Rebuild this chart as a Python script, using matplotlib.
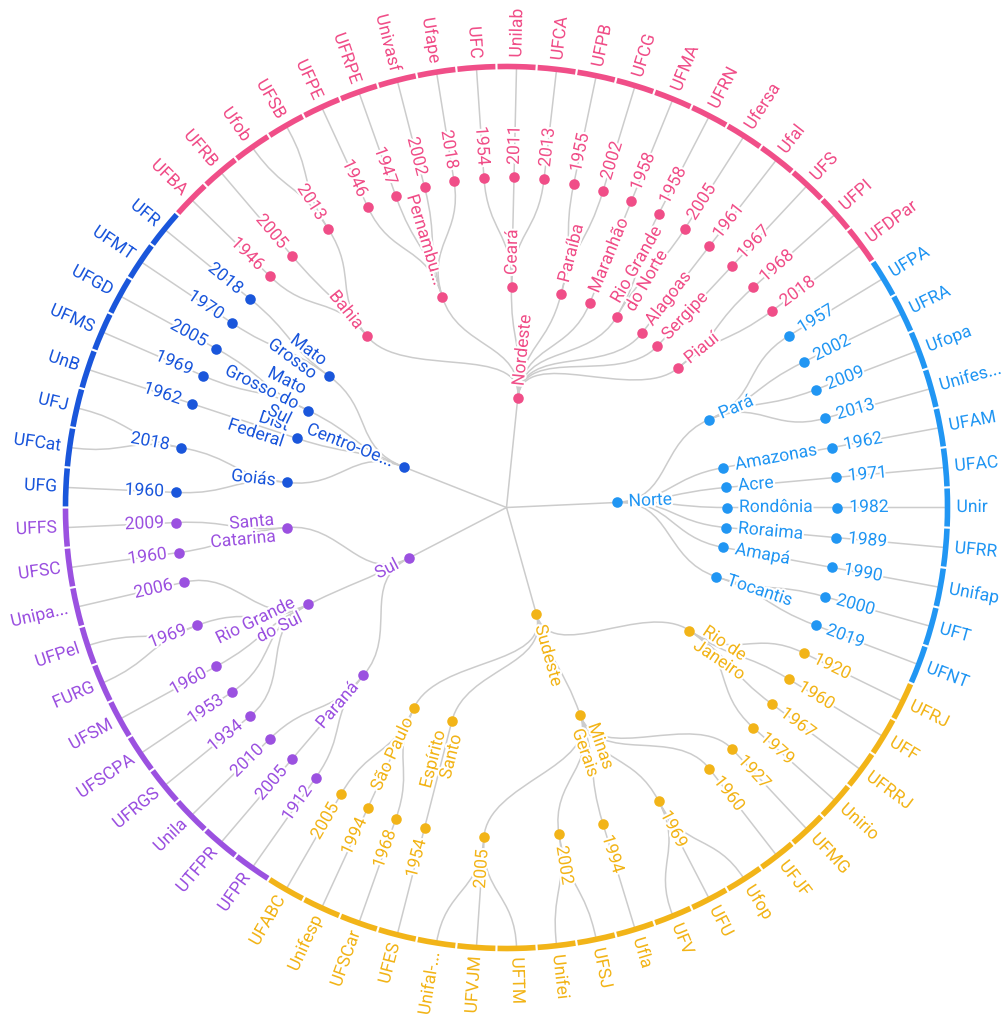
import numpy as np
import matplotlib.pyplot as plt
import matplotlib.patheffects as pe
from matplotlib.path import Path
from matplotlib.patches import PathPatch, Wedge

plt.rcParams['font.family'] = ['Roboto', 'DejaVu Sans']

# regions (clockwise from the right)
regions = ['Norte', 'Sudeste', 'Sul', 'Centro-Oeste', 'Nordeste']
region_labels = ['Norte', 'Sudeste', 'Sul', 'Centro-Oe...', 'Nordeste']
region_colors = ['#2196F3', '#F2B418', '#9B51E0', '#1A56DB', '#F04E88']

states = ['Pará', 'Amazonas', 'Acre', 'Rondônia', 'Roraima', 'Amapá', 'Tocantis',
          'Rio de Janeiro', 'Minas Gerais', 'Espírito Santo', 'São Paulo',
          'Paraná', 'Rio Grande do Sul', 'Santa Catarina',
          'Goiás', 'Distrito Federal', 'Mato Grosso do Sul', 'Mato Grosso',
          'Bahia', 'Pernambuco', 'Ceará', 'Paraíba', 'Maranhão',
          'Rio Grande do Norte', 'Alagoas', 'Sergipe', 'Piauí']
state_labels = ['Pará', 'Amazonas', 'Acre', 'Rondônia', 'Roraima', 'Amapá', 'Tocantis',
                'Rio de\nJaneiro', 'Minas\nGerais', 'Espírito\nSanto', 'São Paulo',
                'Paraná', 'Rio Grande\ndo Sul', 'Santa\nCatarina',
                'Goiás', 'Dist\nFederal', 'Mato\nGrosso do\nSul', 'Mato\nGrosso',
                'Bahia', 'Pernambu...', 'Ceará', 'Paraíba', 'Maranhão',
                'Rio Grande\ndo Norte', 'Alagoas', 'Sergipe', 'Piauí']
state_region = [0, 0, 0, 0, 0, 0, 0,
                1, 1, 1, 1,
                2, 2, 2,
                3, 3, 3, 3,
                4, 4, 4, 4, 4, 4, 4, 4, 4]

universities = ['UFPA', 'UFRA', 'Ufopa', 'Unifes...', 'UFAM', 'UFAC', 'Unir', 'UFRR', 'Unifap', 'UFT', 'UFNT',
                'UFRJ', 'UFF', 'UFRRJ', 'Unirio', 'UFMG', 'UFJF', 'Ufop', 'UFU', 'UFV', 'Ufla', 'UFSJ',
                'Unifei', 'UFTM', 'UFVJM', 'Unifal-...', 'UFES', 'UFSCar', 'Unifesp', 'UFABC',
                'UFPR', 'UTFPR', 'Unila', 'UFRGS', 'UFSCPA', 'UFSM', 'FURG', 'UFPel', 'Unipa...', 'UFSC', 'UFFS',
                'UFG', 'UFCat', 'UFJ', 'UnB', 'UFMS', 'UFGD', 'UFMT', 'UFR',
                'UFBA', 'UFRB', 'Ufob', 'UFSB', 'UFPE', 'UFRPE', 'Univasf', 'Ufape', 'UFC', 'Unilab', 'UFCA',
                'UFPB', 'UFCG', 'UFMA', 'UFRN', 'Ufersa', 'Ufal', 'UFS', 'UFPI', 'UFDPar']
founded = [1957, 2002, 2009, 2013, 1962, 1971, 1982, 1989, 1990, 2000, 2019,
           1920, 1960, 1967, 1979, 1927, 1960, 1969, 1969, 1969, 1994, 2002,
           2002, 2005, 2005, 2005, 1954, 1968, 1994, 2005,
           1912, 2005, 2010, 1934, 1953, 1960, 1969, 1969, 2006, 1960, 2009,
           1960, 2018, 2018, 1962, 1969, 2005, 1970, 2018,
           1946, 2005, 2013, 2013, 1946, 1947, 2002, 2018, 1954, 2011, 2013,
           1955, 2002, 1958, 1958, 2005, 1961, 1967, 1968, 2018]
univ_state = [0, 0, 0, 0, 1, 2, 3, 4, 5, 6, 6,
              7, 7, 7, 7, 8, 8, 8, 8, 8, 8, 8,
              8, 8, 8, 8, 9, 10, 10, 10,
              11, 11, 11, 12, 12, 12, 12, 12, 12, 13, 13,
              14, 14, 14, 15, 16, 16, 17, 17,
              18, 18, 18, 18, 19, 19, 19, 19, 20, 20, 20,
              21, 21, 22, 23, 23, 24, 25, 26, 26]

# layout
R_STEP = 110.25
FS = 12.6
LINK = '#CCCCCC'
n = len(universities)
step = 360.0 / n
leaf_ang = [(i - 6) * step for i in range(n)]


def pos(ang, r):
    a = np.radians(ang)
    return r * np.cos(a), -r * np.sin(a)


# year nodes: consecutive leaves with same state and year
year_nodes = []
for i in range(n):
    key = (univ_state[i], founded[i])
    if year_nodes and year_nodes[-1][0] == key:
        year_nodes[-1][1].append(i)
    else:
        year_nodes.append((key, [i]))
year_ang = [(leaf_ang[c[0]] + leaf_ang[c[-1]]) / 2 for _, c in year_nodes]
year_state = [k[0] for k, _ in year_nodes]

state_ang = []
for s in range(len(states)):
    ys = [j for j in range(len(year_nodes)) if year_state[j] == s]
    state_ang.append((year_ang[ys[0]] + year_ang[ys[-1]]) / 2)

region_ang = []
for g in range(len(regions)):
    ss = [s for s in range(len(states)) if state_region[s] == g]
    region_ang.append((state_ang[ss[0]] + state_ang[ss[-1]]) / 2)

fig = plt.figure(figsize=(10.08, 10.19), dpi=100)
ax = fig.add_axes([0, 0, 1, 1])
ax.set_xlim(-506.5, 501.5)
ax.set_ylim(-511.5, 507.5)
ax.axis('off')


def link(a1, r1, a2, r2):
    rm = (r1 + r2) / 2
    verts = [pos(a1, r1), pos(a1, rm), pos(a2, rm), pos(a2, r2)]
    p = Path(verts, [Path.MOVETO, Path.CURVE4, Path.CURVE4, Path.CURVE4])
    ax.add_patch(PathPatch(p, fc='none', ec=LINK, lw=1.1, zorder=1))


halo = [pe.withStroke(linewidth=3, foreground='white')]


def label(ang, r, text, color):
    x, y = pos(ang, r)
    if np.cos(np.radians(ang)) < 0:
        rot, ha = 180 - ang, 'right'
    else:
        rot, ha = -ang, 'left'
    ax.text(x, y, text, rotation=rot, rotation_mode='anchor', ha=ha, va='center',
            multialignment=ha, color=color, fontsize=FS, zorder=5,
            path_effects=halo, linespacing=1.15)


def dot(ang, r, color):
    x, y = pos(ang, r)
    ax.plot(x, y, 'o', ms=7.6, mec='none', color=color, zorder=4)


# links (straight from the centre to the regions)
for g in range(len(regions)):
    x, y = pos(region_ang[g], R_STEP)
    ax.plot([0, x], [0, y], color=LINK, lw=1.1, zorder=1)
for s in range(len(states)):
    link(region_ang[state_region[s]], R_STEP, state_ang[s], 2 * R_STEP)
for j, (k, ch) in enumerate(year_nodes):
    link(state_ang[k[0]], 2 * R_STEP, year_ang[j], 3 * R_STEP)
    for i in ch:
        link(year_ang[j], 3 * R_STEP, leaf_ang[i], 4 * R_STEP)

# ring segments
half = step / 2 - 0.14
for i in range(n):
    col = region_colors[state_region[univ_state[i]]]
    a = -leaf_ang[i]
    ax.add_patch(Wedge((0, 0), 4 * R_STEP + 2.8, a - half, a + half, width=5.6,
                       fc=col, ec='none', zorder=3))
    label(leaf_ang[i], 4 * R_STEP + 9, universities[i], col)

# nodes and labels
for g in range(len(regions)):
    dot(region_ang[g], R_STEP, region_colors[g])
    label(region_ang[g], R_STEP + 12, region_labels[g], region_colors[g])
for s in range(len(states)):
    col = region_colors[state_region[s]]
    dot(state_ang[s], 2 * R_STEP, col)
    label(state_ang[s], 2 * R_STEP + 12, state_labels[s], col)
for j, (k, ch) in enumerate(year_nodes):
    col = region_colors[state_region[k[0]]]
    dot(year_ang[j], 3 * R_STEP, col)
    label(year_ang[j], 3 * R_STEP + 12, str(k[1]), col)

fig.savefig('out.png', dpi=100, facecolor='white')
